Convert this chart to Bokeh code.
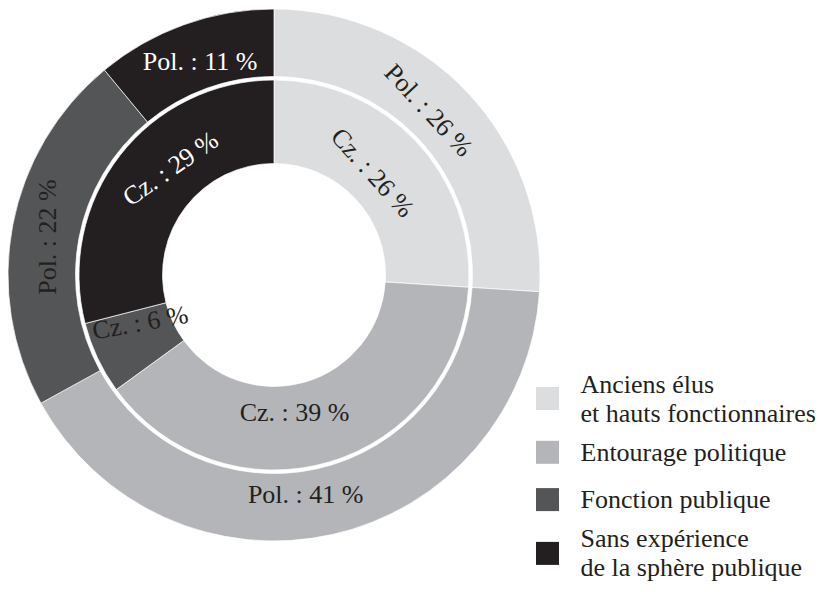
import math
from bokeh.plotting import figure
from bokeh.models import Range1d, ColumnDataSource
from bokeh.core.properties import value
from bokeh.embed import file_html
from bokeh.resources import INLINE

# ---- data ----
categories = ["Anciens élus\net hauts fonctionnaires", "Entourage politique",
              "Fonction publique", "Sans expérience\nde la sphère publique"]
pol_values = [26, 41, 22, 11]   # outer ring
cz_values = [26, 39, 6, 29]     # inner ring
pol_prefix = "Pol."
cz_prefix = "Cz."

# ---- style ----
colors = ["#dcdddf", "#b4b5b8", "#545557", "#231f20"]
DARK = "#231f20"
FONT = "Liberation Serif"
FSIZE = "26px"
outer_r = (198.5, 266)
inner_r = (111.5, 195)
outer_lbl = dict(radius=[226, 222, 230, 226], nudge=[-3.6, 4.4, -1.3, 0.7],
                 rot=[-47, 0, 90, 0], color=[DARK, DARK, DARK, "white"])
inner_lbl = dict(radius=[142, 139, 142, 148.5], nudge=[-2.9, 7.7, 5.6, 8],
                 rot=[-48, 0, 10, 35], color=[DARK, DARK, DARK, "white"])
# legend layout (px, chart centre = 0,0)
LEG_X_SQ = 273.5
LEG_X_TXT = 306.5
LEG_TOP = -94.5
LEG_SQ = 23
LEG_LINE = 29
LEG_MIN_SLOT = 45
LEG_GAP = 2.3


def ring(values, prefix, lbl):
    total = float(sum(values))
    starts, ends, xs, ys, texts, angs = [], [], [], [], [], []
    cum = 0.0
    for i, v in enumerate(values):
        a0 = cum / total
        cum += v
        a1 = cum / total
        starts.append(math.pi / 2 - 2 * math.pi * a0)
        ends.append(math.pi / 2 - 2 * math.pi * a1)
        mid = 360.0 * (a0 + a1) / 2 + lbl["nudge"][i]
        r = lbl["radius"][i]
        xs.append(r * math.sin(math.radians(mid)))
        ys.append(r * math.cos(math.radians(mid)))
        texts.append(f"{prefix} : {v} %")
        angs.append(math.radians(lbl["rot"][i]))
    wedge = ColumnDataSource(dict(start=starts, end=ends, color=colors[:len(values)]))
    labels = ColumnDataSource(dict(x=xs, y=ys, text=texts, angle=angs, tc=lbl["color"]))
    return wedge, labels


p = figure(width=821, height=584,
           x_range=Range1d(-273.5, -273.5 + 821), y_range=Range1d(274.5 - 584, 274.5),
           output_backend="svg", toolbar_location=None, min_border=0,
           x_axis_location=None, y_axis_location=None)
p.grid.visible = False
p.outline_line_color = None
p.background_fill_color = "white"

ow, ol = ring(pol_values, pol_prefix, outer_lbl)
iw, il = ring(cz_values, cz_prefix, inner_lbl)

p.annular_wedge(x=0, y=0, inner_radius=outer_r[0], outer_radius=outer_r[1],
                start_angle="start", end_angle="end", direction="clock",
                fill_color="color", line_color="white", line_width=0.7, source=ow)
p.annular_wedge(x=0, y=0, inner_radius=inner_r[0], outer_radius=inner_r[1],
                start_angle="start", end_angle="end", direction="clock",
                fill_color="color", line_color="white", line_width=0.7, source=iw)

for src in (ol, il):
    p.text(x="x", y="y", text="text", angle="angle", text_color="tc",
           text_align="center", text_baseline="middle",
           text_font=value(FONT), text_font_size=FSIZE, source=src)

# ---- legend (manual, so the serif font is honoured) ----
sq_x, sq_y, sq_c = [], [], []
tx, ty, tt = [], [], []
cursor = LEG_TOP
for i, cat in enumerate(categories):
    lines = cat.split("\n")
    slot = max(len(lines) * LEG_LINE, LEG_MIN_SLOT)
    cy = cursor - slot / 2.0
    sq_x.append(LEG_X_SQ)
    sq_y.append(cy)
    sq_c.append(colors[i])
    for k, line in enumerate(lines):
        tx.append(LEG_X_TXT)
        ty.append(cy - (k - (len(lines) - 1) / 2.0) * LEG_LINE)
        tt.append(line)
    cursor -= slot + LEG_GAP

p.rect(x="x", y="y", width=LEG_SQ, height=LEG_SQ, fill_color="c", line_color=None,
       source=ColumnDataSource(dict(x=sq_x, y=sq_y, c=sq_c)))
p.text(x="x", y="y", text="t", text_color=DARK, text_align="left", text_baseline="middle",
       text_font=value(FONT), text_font_size=FSIZE,
       source=ColumnDataSource(dict(x=tx, y=ty, t=tt)))

open("out.html", "w").write(file_html(p, INLINE))
